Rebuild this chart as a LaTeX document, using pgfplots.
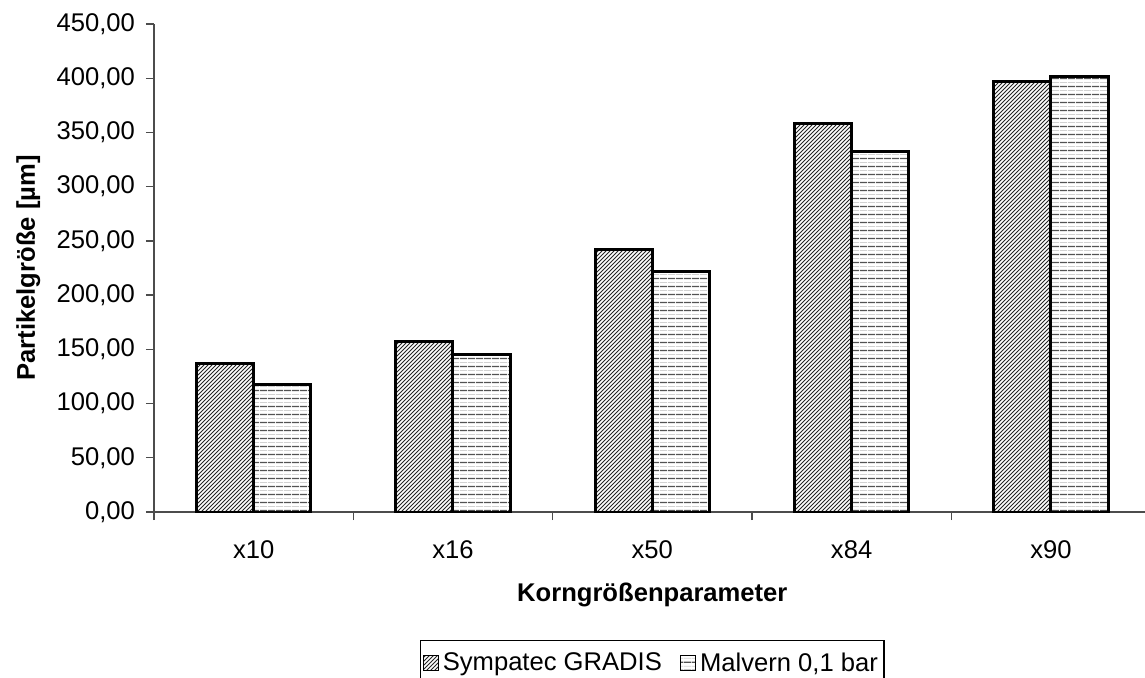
\documentclass[border=0pt]{standalone}
\usepackage{fontspec}
\setmainfont{Liberation Sans}
\usepackage{pgfplots}
\pgfplotsset{compat=1.18}
\usetikzlibrary{patterns.meta}

\newcommand\chartfont{\fontsize{12.8}{15}\selectfont}

\tikzset{
  gradis/.style={draw=black, line width=1.5pt,
    pattern={Lines[angle=45, distance=1.41421pt, line width=0.5pt]}, pattern color=black!85},
  malvern/.style={draw=black, line width=1.5pt,
    pattern={Lines[angle=0, distance=4pt, line width=0.75pt]}, pattern color=black!68,
    postaction={pattern={Lines[angle=0, distance=4pt, line width=0.45pt, yshift=2pt]}, pattern color=black!18}},
}

\begin{document}
\begin{tikzpicture}
\useasboundingbox (-77pt,-82.5pt) rectangle (495.5pt,256pt);
\begin{axis}[
  at={(0pt,0pt)}, anchor=south west,
  scale only axis, width=498.3pt, height=244pt,
  ybar=0pt, bar width=28.6pt,
  xmin=-0.5, xmax=4.5, ymin=0, ymax=450,
  axis x line*=bottom, axis y line*=left,
  axis line style={black!70, line width=0.65pt},
  tick label style={font=\chartfont},
  label style={font=\chartfont\bfseries},
  xtick={0,1,2,3,4},
  xticklabels={x10,x16,x50,x84,x90},
  major x tick style={draw=none},
  minor xtick={-0.5,0.5,1.5,2.5,3.5,4.5},
  minor tick length=4pt,
  minor x tick style={black!70, line width=0.65pt},
  xticklabel style={yshift=-6.7pt},
  ytick={0,50,...,450},
  tick align=outside,
  major tick length=4pt,
  major y tick style={black!70, line width=0.65pt},
  /pgf/number format/fixed,
  /pgf/number format/fixed zerofill,
  /pgf/number format/precision=2,
  /pgf/number format/use comma,
  /pgf/number format/assume math mode=true,
  yticklabel style={xshift=-2pt},
  xlabel={Korngrößenparameter},
  xlabel style={at={(axis description cs:0.5,-0.170)}, anchor=center},
  ylabel={Partikelgröße [µm]},
  ylabel style={at={(axis description cs:-0.126,0.5)}, anchor=center},
  legend columns=2,
  legend style={at={(0.5,-0.2623)}, anchor=north, draw=black, line width=0.6pt,
    inner xsep=1pt, inner ysep=4pt,
    font=\chartfont,
    /tikz/every even column/.append style={column sep=7pt}},
  legend image code/.code={\draw[#1, line width=0.6pt] (0pt,-3.75pt) rectangle (7.5pt,3.75pt);},
]
\addplot[gradis] coordinates {(0,137) (1,157.5) (2,242.3) (3,357.8) (4,397)};
\addplot[malvern] coordinates {(0,117.5) (1,145) (2,222.2) (3,332) (4,401.4)};
\legend{Sympatec GRADIS, {Malvern 0,1 bar}}
\end{axis}
\end{tikzpicture}
\end{document}
